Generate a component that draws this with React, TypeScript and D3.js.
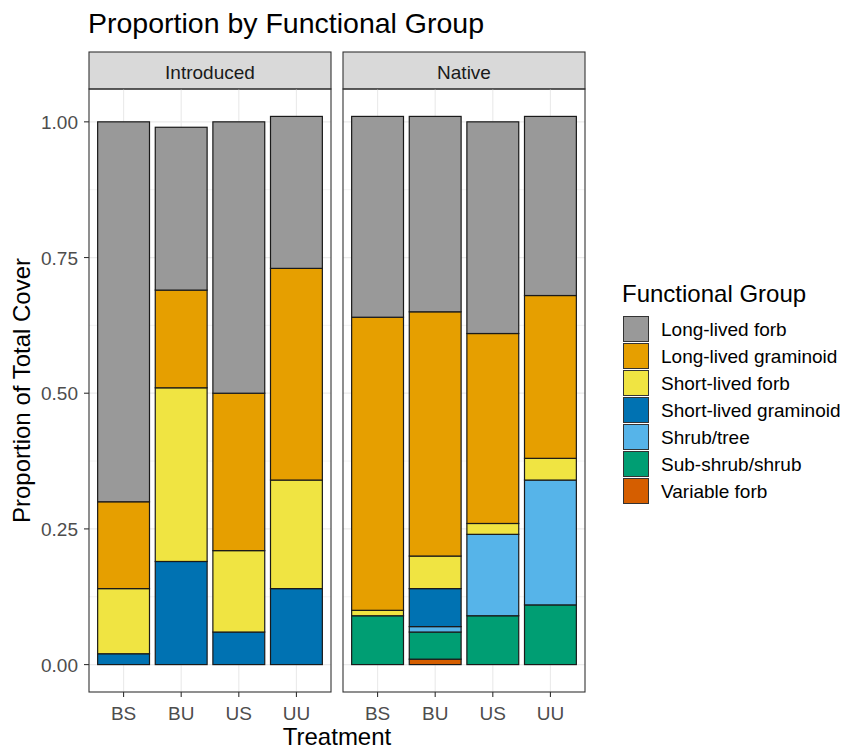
import React from "react";
import * as d3 from "d3";

// functional groups, top of the stack first
const groups = [
  "Long-lived forb",
  "Long-lived graminoid",
  "Short-lived forb",
  "Short-lived graminoid",
  "Shrub/tree",
  "Sub-shrub/shrub",
  "Variable forb",
];
const groupColors = ["#999999", "#E69F00", "#F0E442", "#0072B2", "#56B4E9", "#009E73", "#D55E00"];

const facets = ["Introduced", "Native"];
const treatments = ["BS", "BU", "US", "UU"];
const yTicks = [0, 0.25, 0.5, 0.75, 1];

// segment heights per group, bars: Introduced BS,BU,US,UU then Native BS,BU,US,UU
const longLivedForb = [0.70, 0.30, 0.50, 0.28, 0.37, 0.36, 0.39, 0.33];
const longLivedGraminoid = [0.16, 0.18, 0.29, 0.39, 0.54, 0.45, 0.35, 0.30];
const shortLivedForb = [0.12, 0.32, 0.15, 0.20, 0.01, 0.06, 0.02, 0.04];
const shortLivedGraminoid = [0.02, 0.19, 0.06, 0.14, 0, 0.07, 0, 0];
const shrubTree = [0, 0, 0, 0, 0, 0.01, 0.15, 0.23];
const subShrub = [0, 0, 0, 0, 0.09, 0.05, 0.09, 0.11];
const variableForb = [0, 0, 0, 0, 0, 0.01, 0, 0];

const series = [longLivedForb, longLivedGraminoid, shortLivedForb, shortLivedGraminoid, shrubTree, subShrub, variableForb];

const App = () => {
  const W = 842, H = 750;
  const top = 89, bottom = 692;
  const panels = [{ x0: 89, x1: 331 }, { x0: 343, x1: 585 }];

  const y = d3.scaleLinear().domain([-0.0505, 1.0605]).range([bottom, top]);
  const minor = [0.125, 0.375, 0.625, 0.875];
  const font = "'Liberation Sans', Arial, sans-serif";

  return (
    <svg width={W} height={H} style={{ display: "block", position: "absolute", left: 0, top: 0 }} fontFamily={font}>
      <rect width={W} height={H} fill="white" />
      <text x={88} y={33} fontSize={28.5} fill="black">Proportion by Functional Group</text>

      {facets.map((facet, fi) => {
        const p = panels[fi];
        const x = d3.scaleLinear().domain([0.4, 4.6]).range([p.x0, p.x1]);
        const bw = (x(1.45) - x(1)) * 2;
        return (
          <g key={facet}>
            {/* strip */}
            <rect x={p.x0} y={52} width={p.x1 - p.x0} height={top - 52} fill="#D9D9D9" stroke="#333333" strokeWidth={1.1} />
            <text x={(p.x0 + p.x1) / 2} y={79} textAnchor="middle" fontSize={19} fill="#1A1A1A">{facet}</text>
            {/* grid */}
            {minor.map(v => (
              <line key={"mn" + v} x1={p.x0} x2={p.x1} y1={y(v)} y2={y(v)} stroke="#EBEBEB" strokeWidth={0.6} />
            ))}
            {yTicks.map(v => (
              <line key={"mj" + v} x1={p.x0} x2={p.x1} y1={y(v)} y2={y(v)} stroke="#EBEBEB" strokeWidth={1.2} />
            ))}
            {treatments.map((t, ti) => (
              <line key={"vg" + t} x1={x(ti + 1)} x2={x(ti + 1)} y1={top} y2={bottom} stroke="#EBEBEB" strokeWidth={1.2} />
            ))}
            {/* bars */}
            {treatments.map((t, ti) => {
              const bar = fi * 4 + ti;
              let acc = 0;
              const segs: JSX.Element[] = [];
              for (let g = series.length - 1; g >= 0; g--) {
                const v = series[g][bar];
                if (v <= 0) continue;
                const y0 = y(acc), y1 = y(acc + v);
                acc += v;
                segs.push(
                  <rect key={groups[g]} x={x(ti + 1) - bw / 2} y={y1} width={bw} height={y0 - y1}
                    fill={groupColors[g]} stroke="#1A1A1A" strokeWidth={1.2} />
                );
              }
              return <g key={t}>{segs}</g>;
            })}
            <rect x={p.x0} y={top} width={p.x1 - p.x0} height={bottom - top} fill="none" stroke="#333333" strokeWidth={1.1} />
            {/* x axis */}
            {treatments.map((t, ti) => (
              <g key={"xt" + t}>
                <line x1={x(ti + 1)} x2={x(ti + 1)} y1={bottom} y2={bottom + 5} stroke="#333333" strokeWidth={1.1} />
                <text x={x(ti + 1)} y={720} textAnchor="middle" fontSize={19} fill="#4D4D4D">{t}</text>
              </g>
            ))}
          </g>
        );
      })}

      {/* y axis */}
      {yTicks.map(v => (
        <g key={"yt" + v}>
          <line x1={84} x2={89} y1={y(v)} y2={y(v)} stroke="#333333" strokeWidth={1.1} />
          <text x={78} y={y(v) + 7} textAnchor="end" fontSize={19} fill="#4D4D4D">{v.toFixed(2)}</text>
        </g>
      ))}
      <text transform={`translate(30, ${(top + bottom) / 2}) rotate(-90)`} textAnchor="middle" fontSize={24} fill="black">
        Proportion of Total Cover
      </text>
      <text x={(89 + 585) / 2} y={745} textAnchor="middle" fontSize={24} fill="black">Treatment</text>

      {/* legend */}
      <text x={622} y={302} fontSize={24} fill="black">Functional Group</text>
      {groups.map((g, i) => (
        <g key={g} transform={`translate(623, ${316 + i * 27})`}>
          <rect x={0.5} y={0.5} width={25} height={25} fill={groupColors[i]} stroke="#333333" strokeWidth={1} />
          <text x={38} y={20} fontSize={19} fill="black">{g}</text>
        </g>
      ))}
    </svg>
  );
};

export default App;
